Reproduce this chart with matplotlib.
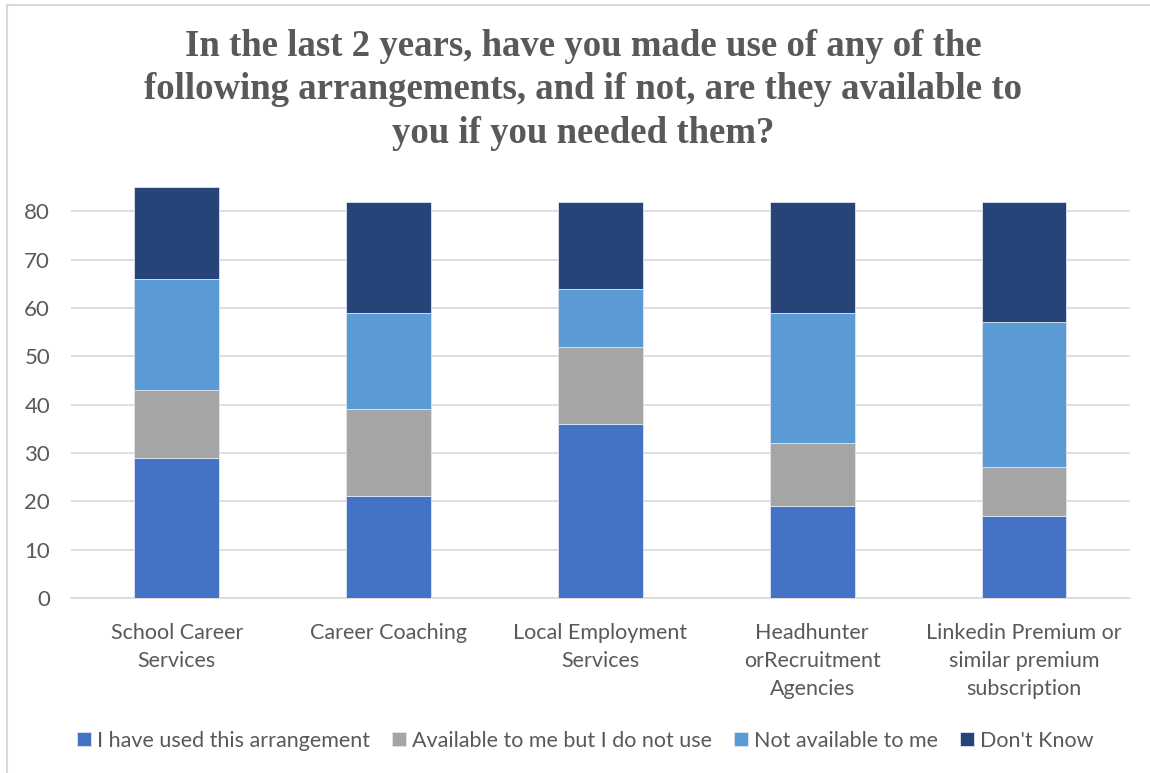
import matplotlib.pyplot as plt
from matplotlib.patches import Rectangle
import numpy as np

categories = ['School Career\nServices', 'Career Coaching', 'Local Employment\nServices',
              'Headhunter\norRecruitment\nAgencies', 'Linkedin Premium or\nsimilar premium\nsubscription']
series_names = ['I have used this arrangement', 'Available to me but I do not use',
                'Not available to me', "Don't Know"]
used = [29, 21, 36, 19, 17]
available_not_used = [14, 18, 16, 13, 10]
not_available = [23, 20, 12, 27, 30]
dont_know = [19, 23, 18, 23, 25]
colors = ['#4472C4', '#A5A5A5', '#5B9BD5', '#264478']

title = ('In the last 2 years, have you made use of any of the\n'
         'following arrangements, and if not, are they available to\n'
         'you if you needed them?')

text_color = '#595959'
plt.rcParams['font.family'] = ['Lato', 'DejaVu Sans']

fig = plt.figure(figsize=(11.5, 7.73), dpi=100)
ax = fig.add_axes([0.0617, 0.2264, 0.9209, 0.5316])

x = np.arange(len(categories))
bottom = np.zeros(len(categories))
for name, vals, col in zip(series_names, [used, available_not_used, not_available, dont_know], colors):
    ax.bar(x, vals, width=0.4, bottom=bottom, color=col, label=name, zorder=3,
           edgecolor='#dfe6f2', linewidth=0.6)
    bottom += np.array(vals)

ax.set_xlim(-0.5, len(categories) - 0.5)
ax.set_ylim(0, 85)
ax.set_yticks(range(0, 81, 10))
ax.set_xticks(x)
ax.set_xticklabels(categories, fontsize=15.5, color=text_color, linespacing=1.5)
ax.tick_params(axis='y', labelsize=16, labelcolor=text_color, length=0, pad=15)
ax.tick_params(axis='x', length=0, pad=18)
ax.grid(axis='y', color='#d9d9d9', linewidth=1.2, zorder=0)
for s in ['top', 'right', 'left']:
    ax.spines[s].set_visible(False)
ax.spines['bottom'].set_color('#d9d9d9')
ax.spines['bottom'].set_linewidth(1.2)

fig.text(0.507, 0.962, title, ha='center', va='top', fontsize=26.5, fontweight='bold',
         color=text_color, family='Liberation Serif', linespacing=1.3)

leg = fig.legend(loc='center', bbox_to_anchor=(0.509, 0.042), ncol=4, frameon=False,
                 fontsize=15.5, handlelength=0.65, handleheight=0.65, handletextpad=0.3,
                 columnspacing=1.0)
for t in leg.get_texts():
    t.set_color(text_color)

# light frame around the whole chart area
fig.patches.append(Rectangle((0.006, -0.01), 1.2, 1.003, transform=fig.transFigure,
                             fill=False, edgecolor='#d9d9d9', linewidth=1.5))

fig.savefig('out.png', dpi=100)
